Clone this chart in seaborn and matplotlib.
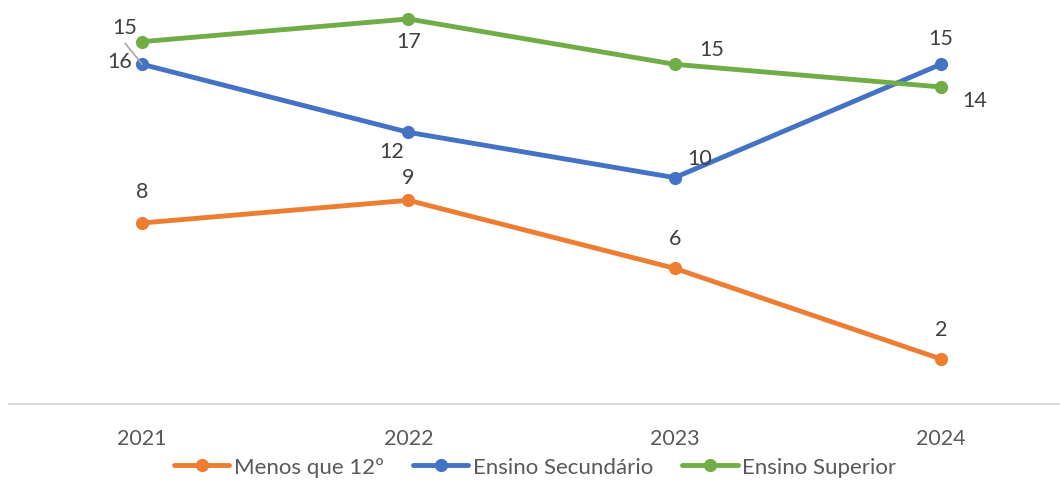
import pandas as pd
import matplotlib
matplotlib.use("Agg")
import matplotlib.pyplot as plt
import seaborn as sns

# values
years = ["2021", "2022", "2023", "2024"]
menos_12 = [8, 9, 6, 2]
secundario = [15, 12, 10, 15]
superior = [16, 17, 15, 14]

series_names = ["Menos que 12º", "Ensino Secundário", "Ensino Superior"]
series_values = [menos_12, secundario, superior]
colors = ["#ED7D31", "#4472C4", "#70AD47"]

# data label offsets in pixels (dx, dy), as placed in the original
label_offsets = [
    [(0, 32), (0, 23), (0, 30), (0, 30)],
    [(-17, 37), (-17, -19), (25, 20), (0, 26)],
    [(-22, -19), (0, -22), (37, 15), (34, -13)],
]


def main():
    sns.set_theme(style="white")
    plt.rcParams["font.family"] = ["Lato", "DejaVu Sans"]

    df = pd.DataFrame({
        "ano": years * 3,
        "valor": menos_12 + secundario + superior,
        "serie": [n for n in series_names for _ in years],
    })

    fig = plt.figure(figsize=(10.6, 4.89), dpi=100)
    # plot area runs a little past the right edge, as in the source image
    ax = fig.add_axes([9 / 1060, (489 - 405.3) / 489, 1065 / 1060, 408 / 489])

    sns.lineplot(data=df, x="ano", y="valor", hue="serie", hue_order=series_names,
                 palette=colors, marker="o", markersize=9.5, markeredgewidth=0,
                 linewidth=3.5, ax=ax, clip_on=False, legend=True)

    ax.set_xlim(-0.5, 3.5)
    ax.set_ylim(0, 18)
    ax.set_xlabel("")
    ax.set_ylabel("")
    ax.set_yticks([])
    for s in ["top", "left", "right"]:
        ax.spines[s].set_visible(False)
    ax.spines["bottom"].set_color("#D9D9D9")
    ax.spines["bottom"].set_linewidth(1.3)
    ax.tick_params(axis="x", length=0, pad=17, labelsize=15.5, labelcolor="#595959")

    # data labels
    for vals, offs in zip(series_values, label_offsets):
        for i, (v, (dx, dy)) in enumerate(zip(vals, offs)):
            ax.annotate(str(v), (i, v), xytext=(dx, dy), textcoords="offset pixels",
                        ha="center", va="center", fontsize=15.5, color="#404040")

    # leader line for the moved 2021 label
    ax.annotate("", (0, secundario[0]), xytext=(-17, 21), textcoords="offset pixels",
                arrowprops=dict(arrowstyle="-", color="#A6A6A6", lw=1.2,
                                shrinkA=0, shrinkB=0))

    handles, labels = ax.get_legend_handles_labels()
    ax.get_legend().remove()
    fig.legend(handles, labels, loc="center", bbox_to_anchor=(535 / 1060, 1 - 468 / 489),
               ncol=3, frameon=False, fontsize=16, labelcolor="#595959",
               handlelength=2.5, handletextpad=0.2, columnspacing=1.3)

    fig.savefig("out.png", dpi=100)


if __name__ == '__main__':
    main()
